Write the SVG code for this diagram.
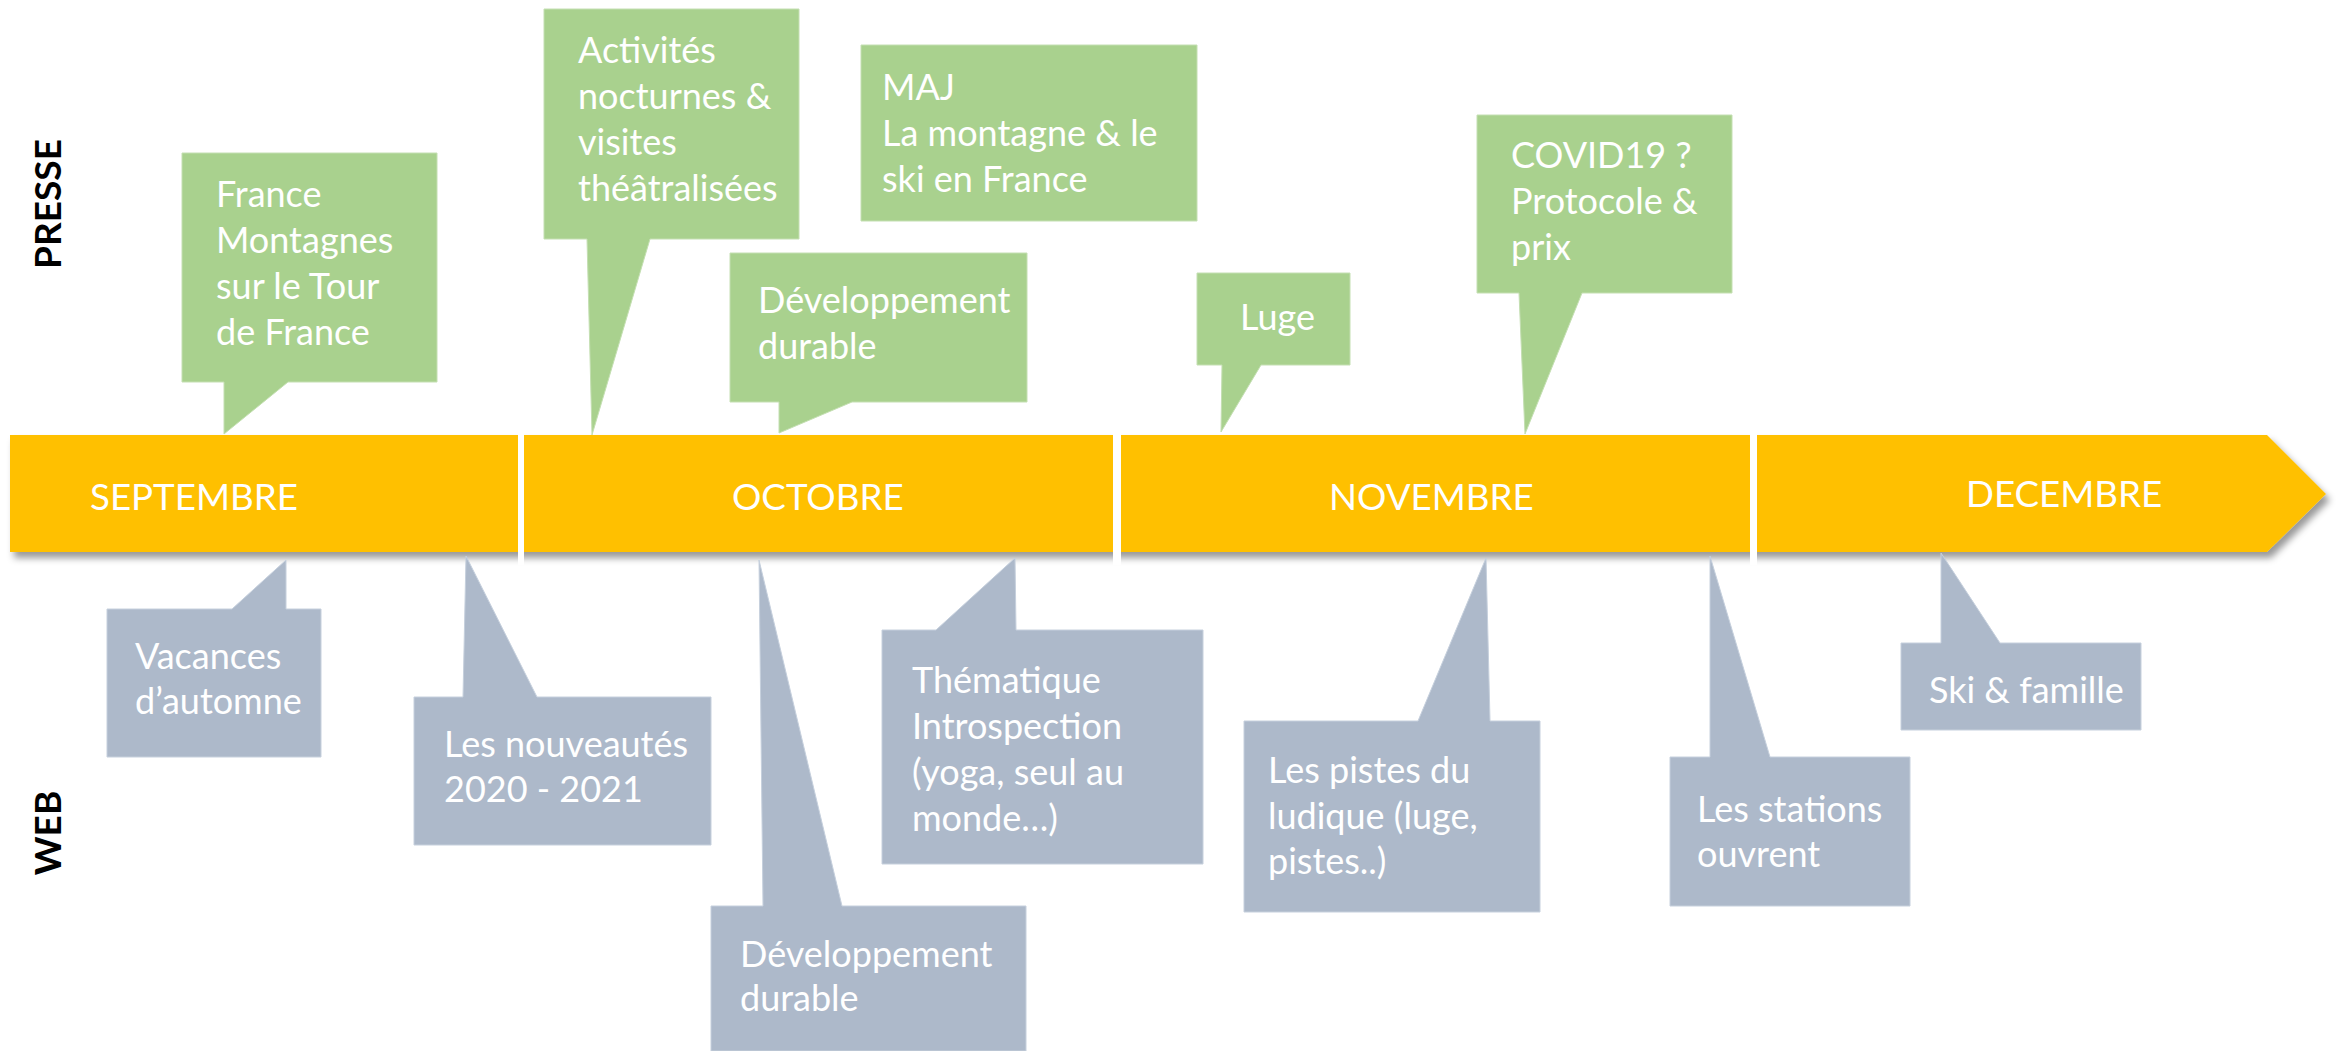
<svg xmlns="http://www.w3.org/2000/svg" width="2344" height="1051" viewBox="0 0 2344 1051">
<defs>
<filter id="sh" x="-5%" y="-20%" width="110%" height="150%">
<feDropShadow dx="4" dy="6" stdDeviation="3.5" flood-color="#000" flood-opacity="0.4"/>
</filter>
</defs>
<style>
.g{fill:#A9D18E;stroke:#C4DFB2;stroke-width:1}
.b{fill:#ADB9CA;stroke:#C6D0DD;stroke-width:1}
.t{font-family:Lato,"Open Sans",sans-serif;font-size:36px;fill:#fff}
.m{font-family:Lato,"Open Sans",sans-serif;font-size:36.7px;fill:#fff}
.lbl{font-family:Lato,"Open Sans",sans-serif;font-size:37px;font-weight:700;fill:#000;text-anchor:middle}
</style>
<rect width="2344" height="1051" fill="#fff"/>
<g id="labels">
<text class="lbl" transform="rotate(-90 61 204)" x="61" y="204">PRESSE</text>
<text class="lbl" transform="rotate(-90 61 833)" x="61" y="833">WEB</text>
</g>
<g id="timeline">
<path d="M10,435 H2267 L2326,494 L2267,552 H10 Z" fill="#FFC000" filter="url(#sh)"/>
<rect x="518" y="433" width="6" height="132" fill="#fff"/>
<rect x="1113" y="433" width="8" height="132" fill="#fff"/>
<rect x="1750" y="433" width="7" height="132" fill="#fff"/>
</g>
<g id="months">
<text class="m" x="90" y="510">SEPTEMBRE</text>
<text class="m" x="732" y="510">OCTOBRE</text>
<text class="m" x="1329" y="510">NOVEMBRE</text>
<text class="m" x="1966" y="507">DECEMBRE</text>
</g>
<g id="connectors"></g>
<g id="p1"><path class="g" d="M182,153 H437 V382 H288 L224,434 L224,382 H182 Z"/>
<text class="t"><tspan x="216" y="207">France</tspan><tspan x="216" y="253">Montagnes</tspan><tspan x="216" y="299">sur le Tour</tspan><tspan x="216" y="345">de France</tspan></text></g>
<g id="p2"><path class="g" d="M544,9 H799 V239 H650 L592,435 L587,239 H544 Z"/>
<text class="t"><tspan x="578" y="63">Activités</tspan><tspan x="578" y="109">nocturnes &amp;</tspan><tspan x="578" y="155">visites</tspan><tspan x="578" y="201">théâtralisées</tspan></text></g>
<g id="p3"><path class="g" d="M730,253 H1027 V402 H852 L779,433 L779,402 H730 Z"/>
<text class="t"><tspan x="758" y="313">Développement</tspan><tspan x="758" y="359">durable</tspan></text></g>
<g id="p4"><path class="g" d="M861,45 H1197 V221 H861 Z"/>
<text class="t"><tspan x="882" y="100">MAJ</tspan><tspan x="882" y="146">La montagne &amp; le</tspan><tspan x="882" y="192">ski en France</tspan></text></g>
<g id="p5"><path class="g" d="M1197,273 H1350 V365 H1261 L1221,432 L1222,365 H1197 Z"/>
<text class="t"><tspan x="1240" y="330">Luge</tspan></text></g>
<g id="p6"><path class="g" d="M1477,115 H1732 V293 H1582 L1525,434 L1519,293 H1477 Z"/>
<text class="t"><tspan x="1511" y="168">COVID19 ?</tspan><tspan x="1511" y="214">Protocole &amp;</tspan><tspan x="1511" y="260">prix</tspan></text></g>
<g id="w1"><path class="b" d="M107,609 H232 L286,560 L286,609 H321 V757 H107 Z"/>
<text class="t"><tspan x="135" y="669">Vacances</tspan><tspan x="135" y="714">d’automne</tspan></text></g>
<g id="w2"><path class="b" d="M414,697 H463 L466,556 L537,697 H711 V845 H414 Z"/>
<text class="t"><tspan x="444" y="757">Les nouveautés</tspan><tspan x="444" y="802">2020 - 2021</tspan></text></g>
<g id="w3"><path class="b" d="M711,906 H763 L759,560 L842,906 H1026 V1051 H711 Z"/>
<text class="t"><tspan x="740" y="967">Développement</tspan><tspan x="740" y="1011">durable</tspan></text></g>
<g id="w4"><path class="b" d="M882,630 H936 L1015,558 L1016,630 H1203 V864 H882 Z"/>
<text class="t"><tspan x="912" y="693">Thématique</tspan><tspan x="912" y="739">Introspection</tspan><tspan x="912" y="785">(yoga, seul au</tspan><tspan x="912" y="831">monde…)</tspan></text></g>
<g id="w5"><path class="b" d="M1244,721 H1418 L1486,558 L1490,721 H1540 V912 H1244 Z"/>
<text class="t"><tspan x="1268" y="783">Les pistes du</tspan><tspan x="1268" y="829">ludique (luge,</tspan><tspan x="1268" y="874">pistes..)</tspan></text></g>
<g id="w6"><path class="b" d="M1670,757 H1710 L1710,556 L1770,757 H1910 V906 H1670 Z"/>
<text class="t"><tspan x="1697" y="822">Les stations</tspan><tspan x="1697" y="867">ouvrent</tspan></text></g>
<g id="w7"><path class="b" d="M1901,643 H1941 L1941,553 L2000,643 H2141 V730 H1901 Z"/>
<text class="t"><tspan x="1929" y="703">Ski &amp; famille</tspan></text></g>
</svg>
